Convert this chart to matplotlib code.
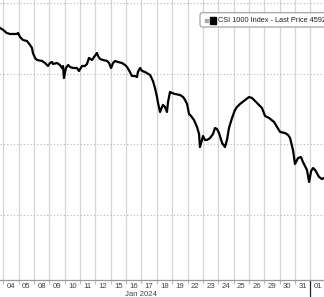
import matplotlib
matplotlib.use("Agg")
import matplotlib.pyplot as plt
from matplotlib.patches import FancyBboxPatch, Rectangle
from matplotlib.transforms import blended_transform_factory

plt.rcParams['font.family'] = ['Liberation Sans Narrow', 'Liberation Sans', 'DejaVu Sans']

# trading days shown on the axis (Jan 4 = day 0)
day_labels = ["04", "05", "08", "09", "10", "11", "12", "15", "16", "17",
              "18", "19", "22", "23", "24", "25", "26", "29", "30", "31", "01"]
month_label = "Jan 2024"
legend_text = "CSI 1000 Index - Last Price 4592.58"

# intraday trace, time in trading days since Jan 4 open
t_days = [-0.215, 0.0, 0.22, 0.44, 0.87, 0.96, 1.09, 1.28, 1.54, 1.74,
          1.87, 1.93, 2.07, 2.20, 2.52, 2.72, 2.91, 3.04, 3.17, 3.24,
          3.50, 3.69, 3.82, 3.89, 3.95, 4.08, 4.22, 4.35, 4.54, 4.80,
          4.93, 5.13, 5.32, 5.45, 5.58, 5.78, 5.91, 6.10, 6.17, 6.30,
          6.50, 6.76, 6.89, 7.02, 7.15, 7.28, 7.47, 7.73, 7.93, 8.06,
          8.25, 8.38, 8.58, 8.71, 8.77, 8.91, 9.04, 9.23, 9.56, 9.75,
          9.88, 10.01, 10.08, 10.21, 10.34, 10.40, 10.53, 10.66, 10.73, 10.86,
          10.99, 11.19, 11.51, 11.71, 11.84, 11.97, 12.10, 12.23, 12.42, 12.62,
          12.75, 12.81, 12.94, 13.01, 13.14, 13.27, 13.47, 13.66, 13.79, 13.92,
          14.05, 14.25, 14.44, 14.57, 14.70, 14.90, 15.09, 15.22, 15.42, 15.75,
          16.01, 16.20, 16.53, 16.85, 17.05, 17.31, 17.64, 17.83, 18.03, 18.35,
          18.55, 18.68, 18.87, 19.00, 19.20, 19.39, 19.52, 19.78, 19.92, 20.05,
          20.18, 20.31, 20.57, 20.76, 20.89]
price = [5530.5, 5524.8, 5516.3, 5513.5, 5513.5, 5516.3, 5505.0, 5496.5, 5493.6, 5482.3,
         5473.7, 5459.6, 5445.4, 5439.7, 5436.9, 5431.2, 5422.7, 5431.2, 5434.0, 5428.4,
         5431.2, 5425.5, 5417.0, 5422.7, 5388.6, 5417.0, 5425.5, 5419.8, 5417.0, 5417.0,
         5408.5, 5422.7, 5422.7, 5428.4, 5445.4, 5439.7, 5448.2, 5459.6, 5451.1, 5442.6,
         5439.7, 5436.9, 5431.2, 5417.0, 5431.2, 5436.9, 5434.0, 5431.2, 5425.5, 5419.8,
         5405.7, 5394.3, 5394.3, 5391.5, 5405.7, 5417.0, 5408.5, 5405.7, 5397.2, 5380.1,
         5360.3, 5334.8, 5317.7, 5292.2, 5306.4, 5312.1, 5306.4, 5292.2, 5320.6, 5349.0,
         5346.1, 5343.3, 5340.4, 5334.8, 5326.2, 5314.9, 5286.5, 5280.9, 5269.6, 5249.6,
         5229.8, 5192.9, 5212.8, 5224.1, 5212.8, 5212.8, 5218.4, 5229.8, 5246.8, 5244.0,
         5232.6, 5204.3, 5192.9, 5212.8, 5246.8, 5275.2, 5297.9, 5306.4, 5314.9, 5326.2,
         5334.8, 5331.9, 5317.7, 5303.5, 5280.9, 5275.2, 5263.8, 5249.6, 5235.5, 5232.6,
         5227.0, 5218.4, 5184.4, 5144.7, 5161.7, 5164.5, 5150.3, 5127.7, 5093.6, 5124.8,
         5133.3, 5127.7, 5107.8, 5102.1, 5104.9]

grid_levels = [5000, 5200, 5400, 5600]

fig = plt.figure(figsize=(3.24, 2.97), dpi=100)
ax = fig.add_axes([0, 1 - 280 / 297, 1, 280 / 297])

ax.plot(t_days, price, color="black", lw=1.6, solid_joinstyle="round", zorder=3)

ax.set_xlim(-0.215, 20.89)
ax.set_ylim(4815.6, 5609.9)

# day boundaries -> gridlines, day centres -> labels
ax.set_xticks(range(0, 21))
ax.set_xticks([i + 0.5 for i in range(len(day_labels))], minor=True)
ax.set_xticklabels([], minor=False)
ax.set_xticklabels(day_labels, minor=True, fontsize=5.6, color="#444444")
ax.tick_params(axis="x", which="major", length=3, color="#bbbbbb", width=0.8)
ax.tick_params(axis="x", which="minor", length=0, pad=1.8)
ax.xaxis.grid(True, which="major", color="#d6d6d6", lw=0.9, ls="-")

ax.set_yticks(grid_levels)
ax.yaxis.grid(True, color="#b5b5b5", lw=0.8, ls=(0, (1, 2)))
ax.tick_params(axis="y", left=False, labelleft=False)

for side in ["top", "left", "right"]:
    ax.spines[side].set_visible(False)
ax.spines["bottom"].set_color("#9a9a9a")
ax.spines["bottom"].set_linewidth(0.9)

# month separator below the axis
trans = blended_transform_factory(ax.transData, ax.transAxes)
ax.plot([20, 20], [0, -0.07], color="#222222", lw=0.9, transform=trans, clip_on=False)
ax.text(9.0, -0.05, month_label, transform=trans, ha="center", va="center",
        fontsize=5.6, color="#444444")

# legend box, cut by the right edge like the original
fig.patches.append(FancyBboxPatch((200 / 324, 1 - 27 / 297), 0.6, 14.3 / 297,
                                  boxstyle="round,pad=0,rounding_size=0.008",
                                  transform=fig.transFigure, fc="white",
                                  ec="#9a9a9a", lw=0.8, zorder=5))
fig.patches.append(Rectangle((205 / 324, 1 - 22 / 297), 3 / 324, 3 / 297,
                             transform=fig.transFigure, color="#aaaaaa", zorder=6))
fig.patches.append(Rectangle((210 / 324, 1 - 23.5 / 297), 6 / 324, 6 / 297,
                             transform=fig.transFigure, color="black", zorder=6))
fig.text(218 / 324, 1 - 20 / 297, legend_text, ha="left", va="center",
         fontsize=5.3, color="#222222", zorder=7)

fig.savefig("out.png", dpi=100)
